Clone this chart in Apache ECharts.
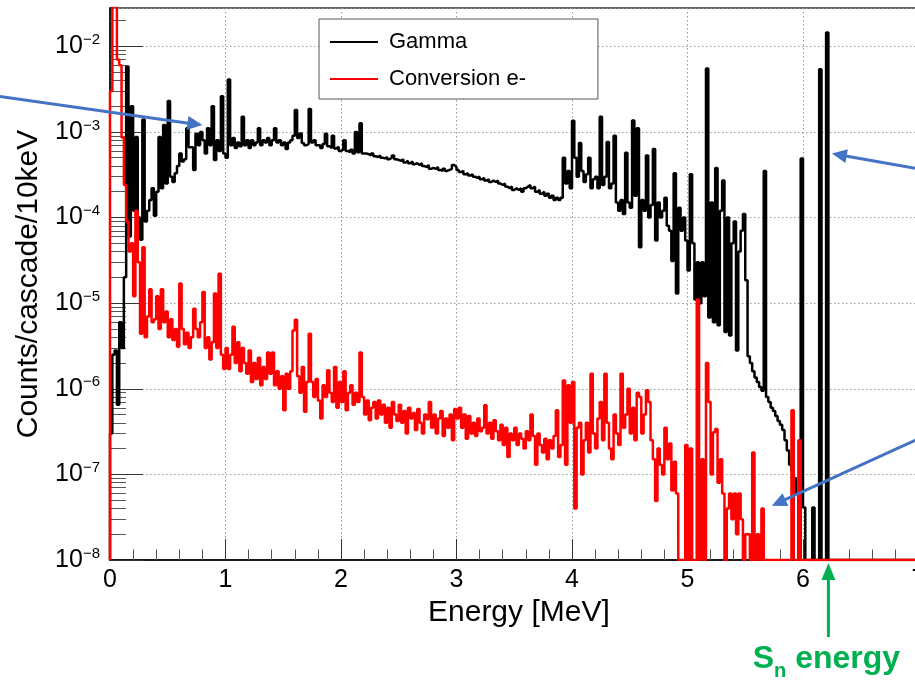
<!DOCTYPE html>
<html><head><meta charset="utf-8">
<script src="https://cdn.jsdelivr.net/npm/echarts@6/dist/echarts.min.js"></script>
<style>html,body{margin:0;padding:0;background:#fff}#c{width:915px;height:680px}</style>
</head><body><div id="c"></div>
<script>
// ---------------- data (bin width 0.02 MeV, bins start at 0) ----------------
const binWidth = 0.02;      // MeV
const histEnd = 7.5;        // MeV, histogram range end (empty bins beyond the arrays)
const gamma = [
  3e-7, 2.5e-6, 2.8e-6, 6.5e-7, 6e-6,          // 0.0
  3e-6, 2e-5, 5.8e-3, 6e-5, 2e-3,              // 0.1
  1.2e-4, 8.7e-4, 1e-4, 5.5e-5, 1.4e-3,        // 0.2
  9e-5, 1.2e-4, 1.6e-4, 2.2e-4, 1.05e-4,       // 0.3
  2e-4, 8.7e-4, 2.2e-4, 1.2e-3, 2.5e-4,        // 0.4
  2.3e-3, 3e-4, 2.6e-4, 3.3e-4, 4e-4,          // 0.5
  5.6e-4, 4.5e-4, 4.8e-4, 1.1e-3, 6.6e-4,      // 0.6
  6.6e-4, 3.6e-4, 9.5e-4, 7e-4, 1e-3,          // 0.7
  8e-4, 5.6e-4, 1.1e-3, 7e-4, 2e-3,            // 0.8
  4.7e-4, 8e-4, 6e-4, 2.6e-3, 5.6e-4,          // 0.9
  5e-4, 4.1e-3, 7e-4, 8.5e-4, 6.5e-4,          // 1.0
  7.5e-4, 6.8e-4, 1.5e-3, 7e-4, 8e-4,          // 1.1
  6.5e-4, 8e-4, 7e-4, 7.5e-4, 1.1e-3,          // 1.2
  7e-4, 8e-4, 7.5e-4, 8.5e-4, 7e-4,            // 1.3
  8e-4, 1.1e-3, 7.5e-4, 8e-4, 7e-4,            // 1.4
  7.5e-4, 6.3e-4, 7.5e-4, 8e-4, 9e-4,          // 1.5
  1.8e-3, 8.5e-4, 9.6e-4, 7.4e-4, 7e-4,        // 1.6
  7.2e-4, 1.85e-3, 7.5e-4, 8e-4, 7e-4,         // 1.7
  7e-4, 6.5e-4, 7.2e-4, 9.5e-4, 6.8e-4,        // 1.8
  6.5e-4, 9e-4, 6.4e-4, 6.7e-4, 6e-4,          // 1.9
  6.2e-4, 8e-4, 6e-4, 5.8e-4, 6.2e-4,          // 2.0
  5.6e-4, 1e-3, 5.8e-4, 1.26e-3, 5.6e-4,       // 2.1
  5.6e-4, 5.5e-4, 5.3e-4, 5.6e-4, 5.2e-4,      // 2.2
  5.1e-4, 5.3e-4, 5.0e-4, 4.9e-4, 5.1e-4,      // 2.3
  4.8e-4, 5.0e-4, 5.3e-4, 4.8e-4, 4.7e-4,      // 2.4
  4.6e-4, 4.8e-4, 4.4e-4, 4.6e-4, 4.3e-4,      // 2.5
  4.5e-4, 4.2e-4, 4.3e-4, 4.1e-4, 4.3e-4,      // 2.6
  4.0e-4, 3.9e-4, 4.1e-4, 3.7e-4, 3.8e-4,      // 2.7
  3.7e-4, 3.9e-4, 3.6e-4, 3.5e-4, 3.7e-4,      // 2.8
  3.5e-4, 3.6e-4, 3.7e-4, 4.1e-4, 3.9e-4,      // 2.9
  3.6e-4, 3.4e-4, 3.5e-4, 3.2e-4, 3.3e-4,      // 3.0
  3.1e-4, 3.2e-4, 3.0e-4, 2.9e-4, 3.0e-4,      // 3.1
  2.8e-4, 2.9e-4, 2.7e-4, 2.8e-4, 2.6e-4,      // 3.2
  2.7e-4, 2.6e-4, 2.7e-4, 2.5e-4, 2.4e-4,      // 3.3
  2.5e-4, 2.3e-4, 2.2e-4, 2.3e-4, 2.1e-4,      // 3.4
  2.2e-4, 2.1e-4, 2.2e-4, 2.0e-4, 2.2e-4,      // 3.5
  2.3e-4, 2.4e-4, 2.2e-4, 2.3e-4, 2.0e-4,      // 3.6
  2.1e-4, 1.9e-4, 2.0e-4, 1.8e-4, 1.9e-4,      // 3.7
  1.7e-4, 1.8e-4, 1.6e-4, 1.7e-4, 1.6e-4,      // 3.8
  1.7e-4, 5e-4, 2.5e-4, 3.5e-4, 2.2e-4,        // 3.9
  1.35e-3, 5e-4, 3e-4, 7.4e-4, 3.5e-4,         // 4.0
  2.6e-4, 3.2e-4, 5e-4, 2.2e-4, 2.8e-4,        // 4.1
  3e-4, 2.2e-4, 1.5e-3, 2.4e-4, 3e-4,          // 4.2
  7.6e-4, 2.2e-4, 2.5e-4, 9e-4, 1.5e-4,        // 4.3
  1.2e-4, 1.6e-4, 1.1e-4, 5.7e-4, 1.5e-4,      // 4.4
  1.3e-4, 1.36e-3, 1.8e-4, 1.1e-3, 4.5e-5,     // 4.5
  1.6e-4, 1.2e-4, 5.3e-4, 1e-4, 1.4e-4,        // 4.6
  6.3e-4, 5.4e-5, 1.5e-4, 1e-4, 1.2e-4,        // 4.7
  1.7e-4, 8e-5, 7e-5, 3.1e-5, 3.3e-4,          // 4.8
  1.3e-5, 1.3e-4, 7e-5, 1e-4, 5.4e-5,          // 4.9
  2.4e-5, 3.2e-4, 5e-5, 1.1e-5, 3e-5,          // 5.0
  1e-5, 3e-5, 1.2e-5, 5.5e-3, 6.8e-6,          // 5.1
  1.5e-4, 6e-6, 3.8e-4, 5.5e-6, 1.2e-4,        // 5.2
  2.7e-4, 4.6e-6, 1e-4, 4.2e-6, 5e-5,          // 5.3
  9e-5, 2.8e-6, 4e-5, 7e-5, 1.1e-4,            // 5.4
  1.85e-5, 2.4e-6, 2.0e-6, 1.6e-6, 1.35e-6,    // 5.5
  1.2e-6, 1.05e-6, 9.5e-7, 3.5e-4, 8e-7,       // 5.6
  7e-7, 6e-7, 5.5e-7, 4.8e-7, 4.2e-7,          // 5.7
  3.8e-7, 3.3e-7, 2.5e-7, 1.9e-7, 1.3e-7,      // 5.8
  1.1e-7, 9e-8, 6e-8, 0, 4.9e-4,               // 5.9
  4.1e-8, 0, 0, 0, 4.1e-8,                     // 6.0
  0, 0, 5.4e-3, 0, 0,                          // 6.1
  1.45e-2, 0, 0, 0, 0                          // 6.2
];
const conversion = [
  3e-3, 3e-2, 3e-2, 7e-3, 6e-3,                // 0.0
  8.6e-4, 2.4e-4, 9e-5, 4e-5, 5e-5,            // 0.1
  1.2e-5, 1.2e-4, 3e-5, 4.4e-6, 4.5e-5,        // 0.2
  4e-6, 7e-6, 1.45e-5, 6e-6, 6.5e-6,           // 0.3
  1.2e-5, 5e-6, 1.45e-5, 6e-6, 8e-6,           // 0.4
  4e-6, 6.5e-6, 3.7e-6, 5e-6, 3.1e-6,          // 0.5
  1.7e-5, 5e-6, 3.3e-6, 4.5e-6, 3e-6,          // 0.6
  4e-6, 8.6e-6, 5e-6, 4e-6, 6e-6,              // 0.7
  1.35e-5, 3e-6, 4e-6, 2.2e-6, 3.5e-6,         // 0.8
  1.3e-5, 3e-6, 2.2e-5, 2.5e-6, 1.7e-6,        // 0.9
  3e-6, 1.7e-6, 2.5e-6, 5.3e-6, 2e-6,          // 1.0
  3.5e-6, 1.6e-6, 3e-6, 2e-6, 1.5e-6,          // 1.1
  2.8e-6, 1.2e-6, 2e-6, 1.3e-6, 2.3e-6,        // 1.2
  1.1e-6, 1.8e-6, 1.3e-6, 2.65e-6, 1.5e-6,     // 1.3
  2.65e-6, 1.1e-6, 1.6e-6, 1.0e-6, 1.4e-6,     // 1.4
  5.6e-7, 1.5e-6, 1.0e-6, 1.6e-6, 4.8e-6,      // 1.5
  6.4e-6, 1.4e-6, 9e-7, 1.8e-6, 5.4e-7,        // 1.6
  1.2e-6, 4.4e-6, 1.2e-6, 8e-7, 1.3e-6,        // 1.7
  7.3e-7, 4.5e-7, 1.1e-6, 8e-7, 1.64e-6,       // 1.8
  9e-7, 7e-7, 1.8e-6, 6e-7, 1.2e-6,            // 1.9
  7e-7, 1.6e-6, 5.6e-7, 9e-7, 1.1e-6,          // 2.0
  6.5e-7, 9e-7, 7e-7, 2.65e-6, 8e-7,           // 2.1
  5e-7, 7.3e-7, 4.3e-7, 6e-7, 7e-7,            // 2.2
  4.5e-7, 7.3e-7, 5e-7, 6.5e-7, 4e-7,          // 2.3
  6e-7, 3.5e-7, 7e-7, 5e-7, 4.2e-7,            // 2.4
  6.5e-7, 4e-7, 5.5e-7, 3e-7, 6e-7,            // 2.5
  4.5e-7, 5.2e-7, 3.3e-7, 5.8e-7, 4e-7,        // 2.6
  3e-7, 5e-7, 4.4e-7, 7e-7, 3.5e-7,            // 2.7
  5e-7, 3e-7, 4.5e-7, 5.5e-7, 2.8e-7,          // 2.8
  4.5e-7, 3.5e-7, 5e-7, 2.5e-7, 5.8e-7,        // 2.9
  4.5e-7, 6e-7, 3.5e-7, 5e-7, 2.6e-7,          // 3.0
  4.8e-7, 3e-7, 4e-7, 2.8e-7, 4.5e-7,          // 3.1
  3.2e-7, 3.5e-7, 6.4e-7, 3e-7, 4e-7,          // 3.2
  2.6e-7, 4.3e-7, 3.2e-7, 2.5e-7, 3.8e-7,      // 3.3
  2.2e-7, 3.5e-7, 1.6e-7, 3e-7, 2.5e-7,        // 3.4
  3.5e-7, 2.2e-7, 3e-7, 2.6e-7, 2e-7,          // 3.5
  3.2e-7, 2.5e-7, 5e-7, 2.8e-7, 1.3e-7,        // 3.6
  3e-7, 2.2e-7, 1.8e-7, 2.6e-7, 1.5e-7,        // 3.7
  2.5e-7, 2e-7, 2.8e-7, 5.6e-7, 1.6e-7,        // 3.8
  2.2e-7, 1.25e-6, 1.3e-7, 1.1e-6, 4e-7,       // 3.9
  1.2e-6, 4e-8, 3.5e-7, 4e-7, 1e-7,            // 4.0
  2.5e-7, 4e-7, 1.8e-7, 1.5e-6, 3e-7,          // 4.1
  2e-7, 4.5e-7, 7e-7, 2.5e-7, 1.5e-6,          // 4.2
  4e-7, 2e-7, 1.5e-7, 5e-7, 3e-7,              // 4.3
  2.2e-7, 1.5e-6, 3.5e-7, 5e-7, 1e-6,          // 4.4
  3e-7, 6e-7, 2.5e-7, 9e-7, 8e-7,              // 4.5
  3e-7, 5e-7, 9.6e-7, 7e-7, 2.5e-7,            // 4.6
  1.5e-7, 4.9e-8, 2e-7, 1.3e-7, 1e-7,          // 4.7
  3.5e-7, 1.5e-7, 2.3e-7, 6.5e-8, 1.4e-7,      // 4.8
  6e-8, 0, 0, 0, 2.2e-7,                       // 4.9
  0, 2e-7, 0, 0, 1.1e-5,                       // 5.0
  0, 1.5e-7, 0, 2e-6, 7e-7,                    // 5.1
  1e-7, 3.1e-7, 3.4e-7, 8e-8, 1.5e-7,          // 5.2
  6e-8, 0, 4e-8, 6e-8, 3e-8,                   // 5.3
  6e-8, 2e-8, 6e-8, 3e-8, 0,                   // 5.4
  2e-8, 2e-8, 0, 1.8e-7, 0,                    // 5.5
  2e-8, 0, 4e-8, 0, 0,                         // 5.6
  0, 0, 0, 0, 0,                               // 5.7
  0, 0, 0, 0, 0,                               // 5.8
  5.6e-7, 0, 0, 2.5e-7, 0                      // 5.9
];
const seriesNames = ['Gamma', 'Conversion e-'];
const xTickValues = [0, 1, 2, 3, 4, 5, 6, 7];
const yDecadeExponents = [-8, -7, -6, -5, -4, -3, -2];
const yMinorMultipliers = [2, 3, 4, 5, 6, 7, 8, 9];
const xRange = [0, 7.08];
const yRange = [1e-8, 0.028];
const snEnergy = 6.22;   // MeV, annotation
// -----------------------------------------------------------------------------

const FONT = "'Liberation Sans', Arial, Helvetica, sans-serif";
const yMin = yRange[0];

function histLine(vals) {
  const n = Math.round(histEnd / binWidth);
  const pts = [[0, yMin]];
  for (let i = 0; i < n; i++) {
    const v = i < vals.length ? vals[i] : 0;
    pts.push([+(i * binWidth).toFixed(4), v > yMin ? v : yMin]);
  }
  pts.push([+(n * binWidth).toFixed(4), yMin]);
  return pts;
}

const minorTickValues = [];
yDecadeExponents.forEach(e => yMinorMultipliers.forEach(m => {
  const v = m * Math.pow(10, e);
  if (v < yRange[1]) minorTickValues.push(v);
}));

const chart = echarts.init(document.getElementById('c'), null, {renderer: 'canvas'});

const option = {
  animation: false,
  backgroundColor: '#fff',
  grid: {
    left: 110, top: 8, width: 115.5 * (xRange[1] - xRange[0]), height: 552,
    show: true, borderColor: '#333', borderWidth: 1.5, backgroundColor: 'transparent',
    containLabel: false, outerBoundsMode: 'none'
  },
  legend: {
    show: true, orient: 'vertical', left: 319, top: 19,
    padding: [12, 72, 9, 11], itemGap: 15,
    itemWidth: 48, itemHeight: 2, icon: 'rect',
    backgroundColor: '#fff', borderColor: '#555', borderWidth: 1,
    selectedMode: false,
    textStyle: {fontFamily: FONT, fontSize: 22, color: '#000', padding: [0, 0, 0, 6]},
    data: seriesNames
  },
  xAxis: {
    type: 'value', min: xRange[0], max: xRange[1], interval: 1,
    name: 'Energy [MeV]', nameLocation: 'middle', nameGap: 37,
    nameTextStyle: {fontFamily: FONT, fontSize: 30, color: '#000'},
    axisLine: {show: true, onZero: false, lineStyle: {color: '#000', width: 1.5}},
    axisTick: {show: true, inside: true, length: 21, lineStyle: {color: '#333', width: 1}},
    minorTick: {show: true, splitNumber: 5, length: 10.5, lineStyle: {color: '#555', width: 1}},
    axisLabel: {show: true, margin: 8, fontFamily: FONT, fontSize: 25, color: '#000',
      formatter: v => String(v)},
    splitLine: {show: true, lineStyle: {color: '#999', width: 1, type: [1.5, 2.5]}},
    minorSplitLine: {show: false}
  },
  yAxis: [{
    type: 'log', logBase: 10, min: yRange[0], max: yRange[1], interval: 1,
    name: 'Counts/cascade/10keV', nameLocation: 'middle', nameGap: 60,
    nameTextStyle: {fontFamily: FONT, fontSize: 30, color: '#000'},
    axisLine: {show: true, onZero: false, lineStyle: {color: '#000', width: 1.5}},
    axisTick: {show: true, inside: true, length: 33, lineStyle: {color: '#333', width: 1}},
    minorTick: {show: false},
    axisLabel: {
      show: true, margin: 10, color: '#000', showMaxLabel: false,
      formatter: v => {
        const e = Math.round(Math.log10(v));
        return '{b|10}{s|' + (e < 0 ? '\u2212' : '') + Math.abs(e) + '}';
      },
      rich: {
        b: {fontFamily: FONT, fontSize: 25, color: '#000', lineHeight: 28},
        s: {fontFamily: FONT, fontSize: 15, color: '#000', verticalAlign: 'top', lineHeight: 15}
      }
    },
    splitLine: {show: true, lineStyle: {color: '#999', width: 1, type: [1.5, 2.5]}}
  }, {
    type: 'log', logBase: 10, min: yRange[0], max: yRange[1], position: 'left',
    axisLine: {show: false},
    axisTick: {show: true, inside: true, length: 16, customValues: minorTickValues,
      lineStyle: {color: '#555', width: 1}},
    axisLabel: {show: false},
    splitLine: {show: false}
  }],
  series: [{
    name: seriesNames[0], type: 'line', step: 'end', data: histLine(gamma),
    xAxisIndex: 0, yAxisIndex: 0,
    showSymbol: false, symbol: 'none', clip: true, z: 3,
    color: '#000', itemStyle: {color: '#000'},
    lineStyle: {color: '#000', width: 2.5},
    emphasis: {disabled: true}, silent: true
  }, {
    name: seriesNames[1], type: 'line', step: 'end', data: histLine(conversion),
    xAxisIndex: 0, yAxisIndex: 0,
    showSymbol: false, symbol: 'none', clip: true, z: 4,
    color: '#ff0000', itemStyle: {color: '#ff0000'},
    lineStyle: {color: '#ff0000', width: 2.5},
    emphasis: {disabled: true}, silent: true
  }]
};
chart.setOption(option);

// ---------------- annotations (anchored to data coordinates) ----------------
const BLUE = '#4472C4', GREEN = '#00B050';
const P = (x, y) => chart.convertToPixel({xAxisIndex: 0, yAxisIndex: 0}, [x, y]);
function arrow(tail, tip, color, w, headLen, headHalf) {
  const dx = tip[0] - tail[0], dy = tip[1] - tail[1];
  const L = Math.hypot(dx, dy), ux = dx / L, uy = dy / L;
  const bx = tip[0] - ux * headLen, by = tip[1] - uy * headLen;
  const nx = -uy, ny = ux;
  return [
    {type: 'line', silent: true, z: 100,
      shape: {x1: tail[0], y1: tail[1], x2: bx + ux, y2: by + uy},
      style: {stroke: color, lineWidth: w}},
    {type: 'polygon', silent: true, z: 100,
      shape: {points: [[tip[0], tip[1]], [bx + nx * headHalf, by + ny * headHalf], [bx - nx * headHalf, by - ny * headHalf]]},
      style: {fill: color}}
  ];
}
const snBase = P(snEnergy, yMin);
const graphics = [].concat(
  arrow(P(-1.0, 2.65e-3), P(0.80, 1.2e-3), BLUE, 3, 15, 7),
  arrow(P(7.1, 3.5e-4), P(6.25, 5.6e-4), BLUE, 3, 15, 7),
  arrow(P(7.1, 3.0e-7), P(5.73, 4.3e-8), BLUE, 3, 15, 7),
  arrow([snBase[0], snBase[1] + 77], [snBase[0], snBase[1] + 3], GREEN, 3, 17, 7),
  [{
    type: 'text', silent: true, z: 100,
    x: snBase[0] - 2, y: snBase[1] + 77,
    style: {
      text: '{a|S}{b|n}{a| energy}',
      align: 'center', verticalAlign: 'top',
      rich: {
        a: {fontFamily: FONT, fontSize: 32, fontWeight: 'bold', fill: GREEN, lineHeight: 44, verticalAlign: 'middle'},
        b: {fontFamily: FONT, fontSize: 20, fontWeight: 'bold', fill: GREEN, lineHeight: 20, verticalAlign: 'bottom'}
      }
    }
  }]
);
chart.setOption({graphic: graphics});
</script>
</body></html>
